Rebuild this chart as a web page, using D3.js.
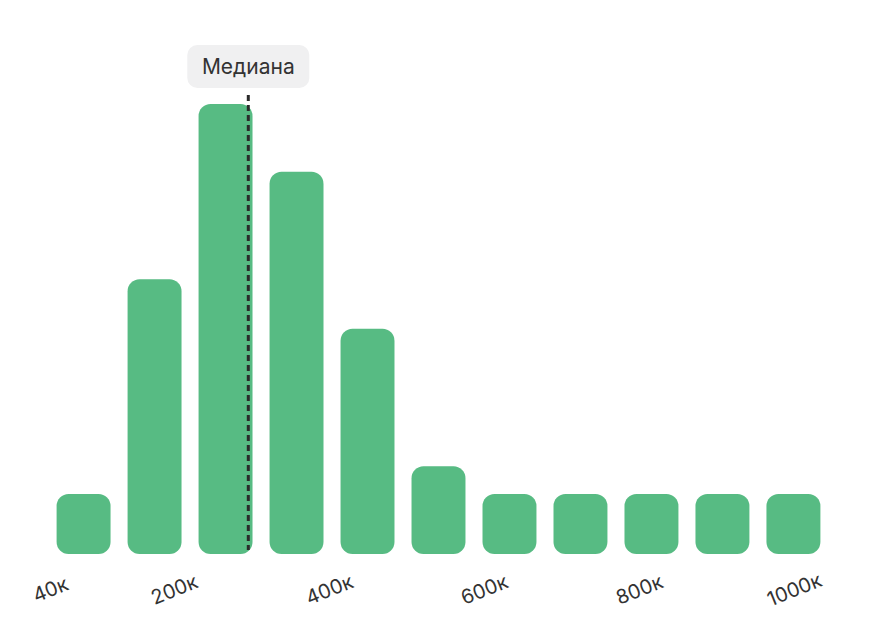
<!DOCTYPE html><html><head><meta charset="utf-8">
<script src="https://cdn.jsdelivr.net/npm/d3@7"></script>
<style>body{margin:0;background:#fff}</style></head><body><svg id="c" width="886" height="642"></svg>
<script>
const bins = ["b1","b2","b3","b4","b5","b6","b7","b8","b9","b10","b11"];
const counts = [1, 4.64, 7.61, 6.46, 3.8, 1.47, 1, 1, 1, 1, 1];
const tickValues = [40, 200, 400, 600, 800, 1000];
const tickLabels = ["40к","200к","400к","600к","800к","1000к"];
const medianValue = 292;
const medianLabel = "Медиана";

const svg = d3.select("#c");
const x = d3.scaleBand().domain(bins).range([49.5, 827.5]).paddingInner(0.24).paddingOuter(0.1);
const y = d3.scaleLinear().domain([0, 7.61]).range([553, 104]);
const xv = d3.scaleLinear().domain([0, 1000]).range([22, 797]);
const base = y(0) ;
svg.selectAll("rect.bar").data(counts).join("rect").attr("class","bar")
  .attr("x",(d,i)=>x(bins[i])).attr("width",x.bandwidth())
  .attr("y",d=>y(d)).attr("height",d=>base-y(d)+1)
  .attr("rx",12).attr("fill","#57bb83");
svg.append("line").attr("x1",xv(medianValue)).attr("x2",xv(medianValue))
  .attr("y1",95).attr("y2",550).attr("stroke","#2b2b2b").attr("stroke-width",3).attr("stroke-dasharray","6,4");
const g = svg.append("g");
g.append("rect").attr("x",xv(medianValue)-61).attr("y",45).attr("width",122).attr("height",43).attr("rx",10).attr("fill","#f0f0f1");
g.append("text").attr("x",xv(medianValue)).attr("y",74).attr("text-anchor","middle")
  .attr("font-family","Inter, 'Noto Sans', sans-serif").attr("font-size",21).attr("fill","#333").text(medianLabel);
svg.selectAll("text.tick").data(tickValues).join("text").attr("class","tick")
  .attr("transform",d=>`translate(${xv(d)},596) rotate(-22)`)
  .attr("text-anchor","middle").attr("font-family","Inter, 'Noto Sans', sans-serif")
  .attr("font-size",20).attr("fill","#333").text((d,i)=>tickLabels[i]);
</script></body></html>
